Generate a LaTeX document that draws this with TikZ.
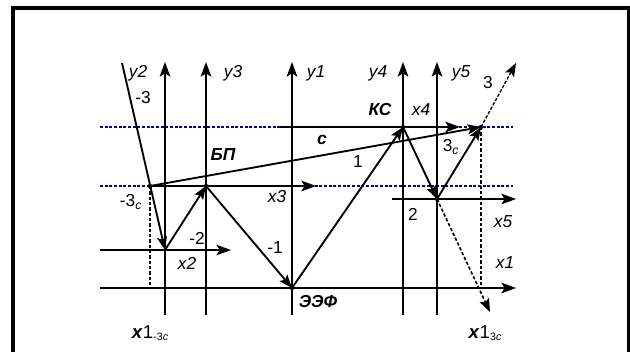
\documentclass[tikz,border=0pt]{standalone}
\usepackage{fontspec}
\setmainfont{Liberation Sans}
\usetikzlibrary{arrows.meta}
\begin{document}
\begin{tikzpicture}[x=0.75pt, y=-0.75pt,
    axis/.style={line width=1.1pt, -{Stealth[length=11pt,width=8pt,inset=2.5pt]}},
    vec/.style={line width=1.4pt, -{Stealth[length=10pt,width=7.5pt,inset=2pt]}},
    guide/.style={draw=blue!55!black, dash pattern=on 2.2pt off 1.3pt, line width=0.8pt},
    proj/.style={line width=1pt, dash pattern=on 2.5pt off 1.5pt},
    lbl/.style={font=\fontsize{13}{14}\selectfont\itshape, inner sep=0pt},
    num/.style={font=\fontsize{13}{14}\selectfont, inner sep=0pt},
    pnt/.style={font=\fontsize{13}{14}\selectfont\bfseries\itshape, inner sep=0pt},
    big/.style={font=\fontsize{14}{15}\selectfont, inner sep=0pt}
]
\useasboundingbox (0,0) rectangle (630,351);
\clip (0,0) rectangle (630,351);
\draw[line width=3pt] (13,360) |- (628.5,8) -- (628.5,360);

% points of the diagram
\coordinate (top3) at (122,63);
\coordinate (m3c) at (150,186);
\coordinate (m2) at (165,250);
\coordinate (bp) at (206,186);
\coordinate (eef) at (292,288);
\coordinate (ks) at (403,127);
\coordinate (two) at (437,199);
\coordinate (p3c) at (481,127);
\coordinate (top3r) at (516,63);
\coordinate (low) at (490,312);

% dashed level lines
\coordinate (gu1) at (100,127); \coordinate (gu2) at (513,127);
\coordinate (gl1) at (100,186); \coordinate (gl2) at (513,186);
\draw[guide] (gu1) -- (gu2);
\draw[guide] (gl1) -- (gl2);

% vertical axes
\foreach \n/\x in {2/165, 3/206, 1/292, 4/403, 5/437} {
  \coordinate (ylo\n) at (\x,315);
  \coordinate (yhi\n) at (\x,62);
  \draw[axis] (ylo\n) -- (yhi\n);
}

% horizontal axes
\coordinate (x1a) at (100,288); \coordinate (x1b) at (516,288);
\coordinate (x2a) at (100,250); \coordinate (x2b) at (231,250);
\coordinate (x3b) at (316,186);
\coordinate (x4a) at (280,127); \coordinate (x4b) at (460,127);
\coordinate (x5a) at (392,199); \coordinate (x5b) at (516,199);
\draw[axis] (x1a) -- (x1b);
\draw[axis] (x2a) -- (x2b);
\draw[axis] (m3c) -- (x3b);
\draw[axis] (x4a) -- (x4b);
\draw[axis] (x5a) -- (x5b);

% projections
\coordinate (pl) at (150,288); \coordinate (pr) at (481,288);
\draw[proj] (m3c) -- (pl);
\draw[proj] (p3c) -- (pr);

% vectors
\draw[vec] (top3) -- (m2);
\draw[vec] (m2) -- (bp);
\draw[vec] (bp) -- (eef);
\draw[vec] (eef) -- (ks);
\draw[vec] (m3c) -- (p3c);
\draw[vec] (ks) -- (two);
\draw[vec] (two) -- (p3c);
\draw[vec, line width=1pt, dash pattern=on 2.5pt off 1.2pt] (p3c) -- (top3r);
\draw[vec, line width=1.2pt, dash pattern=on 2.5pt off 1.5pt] (two) -- (low);
\foreach \p in {m3c, bp, eef, ks, two, p3c} \fill (\p) circle (2.2);

% labels
\node[lbl] (ly2) at (138,73) {y2};
\node[lbl] (ly3) at (233,73) {y3};
\node[lbl] (ly1) at (316,73) {y1};
\node[lbl] (ly4) at (378,73) {y4};
\node[lbl] (ly5) at (461,73) {y5};
\node[num] (lm3) at (143,98) {-3};
\node[num] (lm3c) at (131,202) {-3\textsubscript{\itshape c}};
\node[lbl] (lx2) at (187,263) {x2};
\node[num] (lm2) at (197,238) {-2};
\node[lbl] (lx3) at (277,197) {x3};
\node[num] (lm1) at (275,248) {-1};
\node[pnt] (lbp) at (223,155) {БП};
\node[pnt] (lc) at (322,140) {c};
\node[num] (l1) at (358,162) {1};
\node[pnt] (lks) at (380,110) {КС};
\node[lbl] (lx4) at (421,110) {x4};
\node[num] (l3c) at (451,147) {3\textsubscript{\itshape c}};
\node[num] (l3) at (488,83) {3};
\node[num] (l2) at (413,214) {2};
\node[lbl] (lx5) at (503,222) {x5};
\node[lbl] (lx1) at (505,263) {x1};
\node[pnt] (leef) at (318,302) {ЭЭФ};
\node[big] (lxl) at (150,333) {\textbf{\textit{x}}1\raisebox{-1pt}{\fontsize{8}{9}\selectfont -3\textit{c}}};
\node[big] (lxr) at (485,333) {\textbf{\textit{x}}1\raisebox{-1pt}{\fontsize{8}{9}\selectfont 3\textit{c}}};
\end{tikzpicture}
\end{document}
